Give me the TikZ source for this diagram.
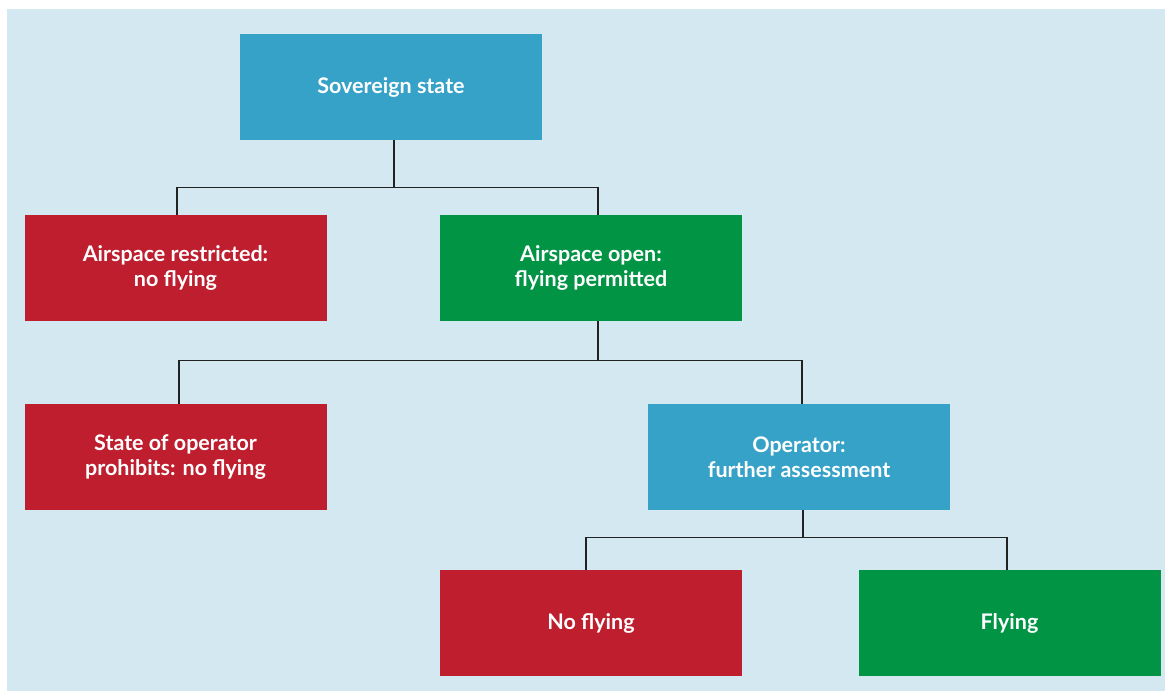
\documentclass[tikz,border=0pt]{standalone}
\usepackage{fontspec}
\setmainfont{Lato}
\definecolor{bgblue}{HTML}{D4E8F2}
\definecolor{boxblue}{HTML}{36A2C7}
\definecolor{boxred}{HTML}{BE1E2D}
\definecolor{boxgreen}{HTML}{009444}
\definecolor{linec}{HTML}{222222}
\begin{document}
\begin{tikzpicture}[x=1pt,y=-1pt,
  box/.style={rectangle, minimum width=302pt, minimum height=106pt, inner sep=0pt,
    text=white, font=\fontsize{21.5}{25}\selectfont\bfseries, align=center},
  bluebox/.style={box, fill=boxblue},
  redbox/.style={box, fill=boxred},
  greenbox/.style={box, fill=boxgreen},
  conn/.style={draw=linec, line width=1.3pt}]
\useasboundingbox (0,0) rectangle (1165,691);
\fill[bgblue] (7,9) rectangle (1165,691);
\node[bluebox] (sov) at (391,87) {Sovereign state};
\node[redbox] (res) at (175.5,268) {Airspace restricted:\\no flying};
\node[greenbox] (open) at (591,268) {Airspace open:\\flying permitted};
\node[redbox] (state) at (175.5,457) {State of operator\\prohibits: no flying};
\node[bluebox] (op) at (799,457) {Operator:\\further assessment};
\node[redbox] (nof) at (591,623) {No flying};
\node[greenbox] (fly) at (1009.5,623) {Flying};
\draw[conn] ([xshift=3pt]sov.south) -- ++(0,47) coordinate (j1);
\draw[conn] ([xshift=1.5pt]res.north) |- (j1) -| ([xshift=7pt]open.north);
\draw[conn] ([xshift=7pt]open.south) -- ++(0,39) coordinate (j2);
\draw[conn] ([xshift=3.5pt]state.north) |- (j2) -| ([xshift=3pt]op.north);
\draw[conn] ([xshift=4pt]op.south) -- ++(0,27) coordinate (j3);
\draw[conn] ([xshift=-5pt]nof.north) |- (j3) -| ([xshift=-2.5pt]fly.north);
\end{tikzpicture}
\end{document}
